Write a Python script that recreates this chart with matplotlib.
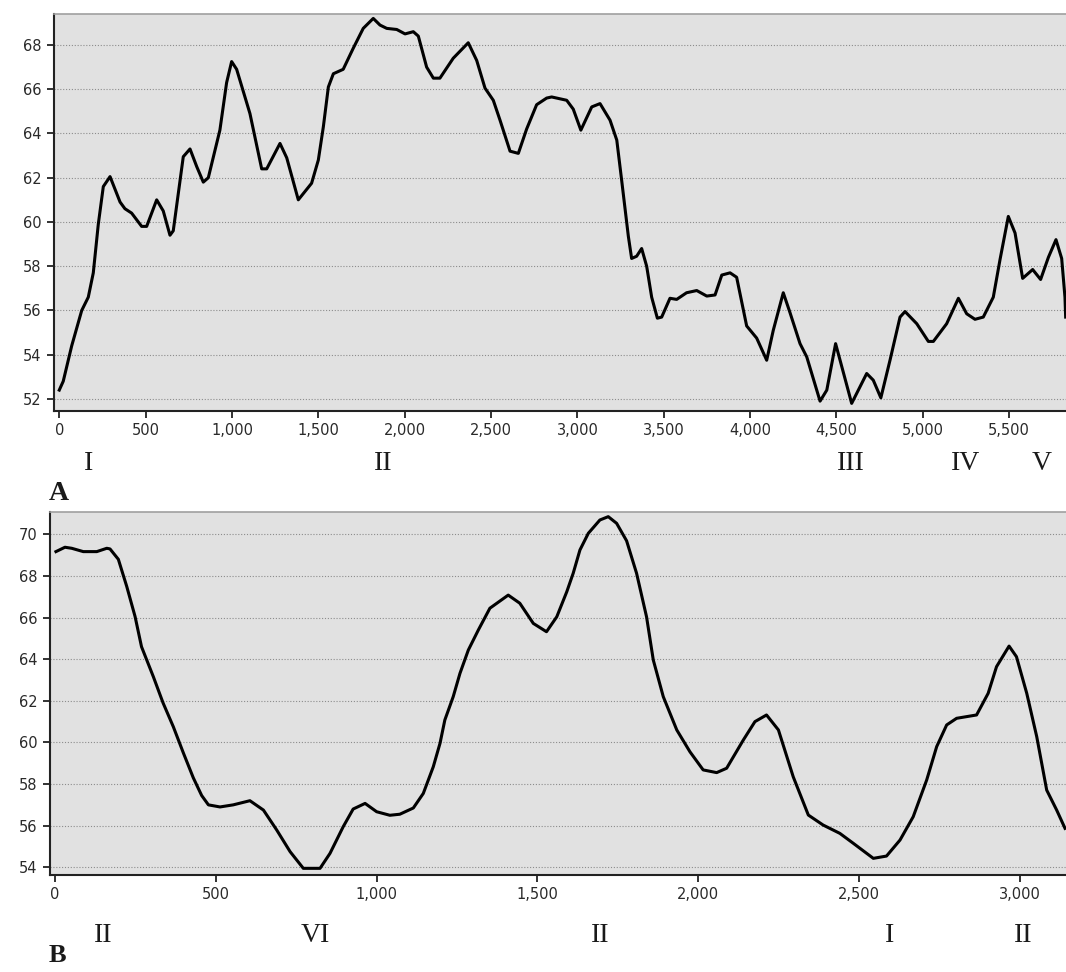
import matplotlib
matplotlib.use("Agg")
import matplotlib.pyplot as plt
import matplotlib.transforms as mtransforms

# panel A profile
top_x = [0, 23, 72, 130, 168, 197, 226, 255, 294, 352, 380, 419, 477, 506, 564, 602, 641, 660,
         718, 757, 796, 834, 863, 930, 969, 998, 1027, 1104, 1172, 1201, 1278, 1317, 1384, 1461,
         1500, 1529, 1558, 1587, 1644, 1702, 1760, 1818, 1857, 1896, 1954, 2002, 2050, 2079, 2127,
         2166, 2204, 2281, 2368, 2417, 2465, 2513, 2552, 2610, 2658, 2706, 2764, 2822, 2851, 2938,
         2976, 3020, 3083, 3131, 3189, 3228, 3256, 3295, 3314, 3343, 3372, 3401, 3430, 3463, 3488,
         3536, 3575, 3632, 3691, 3749, 3797, 3836, 3884, 3922, 3980, 4038, 4096, 4134, 4192, 4231,
         4289, 4328, 4405, 4444, 4495, 4521, 4588, 4617, 4675, 4713, 4757, 4810, 4868, 4897, 4965,
         5032, 5061, 5138, 5206, 5254, 5302, 5350, 5408, 5447, 5495, 5534, 5578, 5636, 5682, 5727,
         5771, 5804, 5823, 5827]
top_y = [52.4, 52.8, 54.4, 56.0, 56.6, 57.7, 59.9, 61.6, 62.05, 60.9, 60.6, 60.4, 59.8, 59.8, 61.0,
         60.5, 59.4, 59.6, 62.95, 63.3, 62.5, 61.8, 62.0, 64.15, 66.3, 67.25, 66.9, 64.9, 62.4, 62.4,
         63.55, 62.9, 61.0, 61.75, 62.8, 64.3, 66.1, 66.7, 66.9, 67.85, 68.75, 69.2, 68.9, 68.75,
         68.7, 68.5, 68.6, 68.4, 67.0, 66.5, 66.5, 67.4, 68.1, 67.3, 66.05, 65.5, 64.6, 63.2, 63.1,
         64.2, 65.3, 65.6, 65.65, 65.5, 65.1, 64.15, 65.2, 65.35, 64.6, 63.7, 61.9, 59.35, 58.35,
         58.45, 58.8, 58.0, 56.6, 55.65, 55.7, 56.55, 56.5, 56.8, 56.9, 56.65, 56.7, 57.6, 57.7,
         57.5, 55.3, 54.75, 53.75, 55.1, 56.8, 55.9, 54.5, 53.9, 51.9, 52.4, 54.5, 53.75, 51.8,
         52.25, 53.15, 52.85, 52.05, 53.75, 55.7, 55.95, 55.4, 54.6, 54.6, 55.4, 56.55, 55.85,
         55.6, 55.7, 56.6, 58.3, 60.25, 59.5, 57.45, 57.85, 57.4, 58.4, 59.2, 58.35, 56.6, 55.7]
top_marks = ["I", "II", "III", "IV", "V"]
top_mark_x = [168, 1874, 4586, 5245, 5688]

# panel B profile
bot_x = [3, 31, 52, 88, 130, 161, 171, 197, 223, 249, 269, 306, 336, 368, 399, 430, 456, 477, 513,
         554, 606, 648, 689, 731, 772, 824, 855, 896, 927, 964, 1000, 1041, 1072, 1114, 1145, 1176,
         1197, 1212, 1238, 1259, 1285, 1316, 1352, 1409, 1445, 1487, 1528, 1560, 1591, 1611, 1632,
         1658, 1694, 1720, 1746, 1777, 1808, 1839, 1860, 1891, 1933, 1974, 2015, 2057, 2088, 2140,
         2176, 2212, 2249, 2295, 2342, 2388, 2440, 2482, 2544, 2585, 2627, 2668, 2710, 2741, 2772,
         2803, 2865, 2901, 2927, 2966, 2989, 3021, 3052, 3083, 3114, 3140]
bot_y = [69.17, 69.38, 69.33, 69.17, 69.17, 69.33, 69.3, 68.8, 67.5, 66.05, 64.6, 63.15, 61.9,
         60.75, 59.5, 58.3, 57.45, 57.0, 56.9, 57.0, 57.2, 56.75, 55.8, 54.75, 53.95, 53.95, 54.67,
         55.95, 56.8, 57.07, 56.67, 56.5, 56.55, 56.85, 57.55, 58.83, 59.96, 61.08, 62.2, 63.32,
         64.44, 65.4, 66.45, 67.08, 66.69, 65.72, 65.32, 66.04, 67.24, 68.13, 69.25, 70.05, 70.69,
         70.85, 70.53, 69.69, 68.13, 66.04, 63.96, 62.2, 60.6, 59.55, 58.68, 58.55, 58.76, 60.12,
         61.0, 61.32, 60.6, 58.35, 56.51, 56.03, 55.63, 55.15, 54.43, 54.54, 55.31, 56.43, 58.2,
         59.8, 60.84, 61.16, 61.32, 62.36, 63.64, 64.63, 64.12, 62.36, 60.28, 57.71, 56.75, 55.87]
bot_marks = ["II", "VI", "II", "I", "II"]
bot_mark_x = [150, 808, 1694, 2596, 3010]

fig = plt.figure(figsize=(10.66, 9.72), dpi=100)
ax1 = fig.add_axes([0.0509, 0.5775, 0.9491, 0.4081])
ax2 = fig.add_axes([0.0469, 0.0998, 0.9531, 0.3738])


def style(ax, xlim, ylim, yticks, xticks):
    ax.set_facecolor("#e1e1e1")
    ax.set_xlim(*xlim)
    ax.set_ylim(*ylim)
    ax.set_yticks(yticks)
    ax.set_xticks(xticks)
    ax.set_xticklabels([f"{t:,}" for t in xticks])
    ax.grid(axis="y", linestyle=(0, (1, 1.6)), color="#8c8c8c", linewidth=0.8)
    ax.set_axisbelow(True)
    ax.spines["right"].set_visible(False)
    ax.spines["top"].set_color("#a0a0a0")
    ax.spines["top"].set_linewidth(1.2)
    for s in ["left", "bottom"]:
        ax.spines[s].set_color("#222222")
        ax.spines[s].set_linewidth(1.5)
    ax.tick_params(direction="out", length=5, width=1.3, color="#222222",
                   labelsize=10.5, labelcolor="#2a2a2a", pad=4)


ax1.plot(top_x, top_y, color="black", linewidth=2.2, solid_joinstyle="round")
style(ax1, (-29, 5829), (51.47, 69.4), range(52, 70, 2), list(range(0, 5501, 500)))

ax2.plot(bot_x, bot_y, color="black", linewidth=2.2, solid_joinstyle="round")
style(ax2, (-15.5, 3143), (53.63, 71.09), range(54, 71, 2), list(range(0, 3001, 500)))

tr1 = mtransforms.blended_transform_factory(ax1.transData, fig.transFigure)
for m, xm in zip(top_marks, top_mark_x):
    ax1.text(xm, 1 - 463 / 972, m, transform=tr1, ha="center", va="center",
             family="Liberation Serif", fontsize=20, color="#1a1a1a")
tr2 = mtransforms.blended_transform_factory(ax2.transData, fig.transFigure)
for m, xm in zip(bot_marks, bot_mark_x):
    ax2.text(xm, 1 - 935 / 972, m, transform=tr2, ha="center", va="center",
             family="Liberation Serif", fontsize=20, color="#1a1a1a")

fig.text(49 / 1066, 1 - 493 / 972, "A", ha="left", va="center",
         family="Liberation Serif", fontweight="bold", fontsize=20, color="#1a1a1a")
fig.text(49 / 1066, 1 - 955 / 972, "B", ha="left", va="center",
         family="Liberation Serif", fontweight="bold", fontsize=19, color="#1a1a1a")

fig.savefig("out.png", dpi=100)
